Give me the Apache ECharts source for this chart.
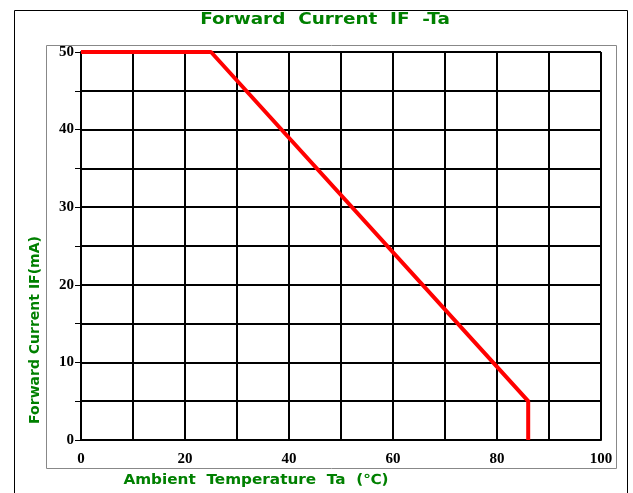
<!DOCTYPE html>
<html>
<head>
<meta charset="utf-8">
<script src="https://cdn.jsdelivr.net/npm/echarts@6/dist/echarts.min.js"></script>
<style>
  html, body { margin: 0; padding: 0; background: #fff; }
  #chart { width: 633px; height: 493px; }
</style>
</head>
<body>
<div id="chart"></div>
<script>
(function() {
  'use strict';

  // derating curve: ambient temperature (C) vs max forward current (mA)
  var tempC = [0, 25, 86, 86];
  var currentMA = [50, 50, 5, 0];
  var xTicks = [0, 20, 40, 60, 80, 100];
  var yTicks = [0, 10, 20, 30, 40, 50];

  var green = '#008000';
  var labelFont = 'Liberation Serif';
  var nameFont = '"DejaVu Sans"';

  var chart = echarts.init(document.getElementById('chart'), null, { renderer: 'canvas' });

  var points = tempC.map(function(t, i) { return [t, currentMA[i]]; });

  var option = {
    animation: false,
    backgroundColor: '#fff',
    grid: { left: 81, right: 32, top: 52, bottom: 53 },
    xAxis: {
      type: 'value',
      min: 0,
      max: 100,
      interval: 10,
      axisLine: { show: true, lineStyle: { color: '#000', width: 2 } },
      axisTick: { show: false },
      splitLine: { show: true, lineStyle: { color: '#000', width: 2 } },
      axisLabel: {
        margin: 12,
        color: '#000',
        fontSize: 15,
        fontWeight: 'bold',
        fontFamily: labelFont,
        formatter: function(v) { return xTicks.indexOf(v) >= 0 ? String(v) : ''; }
      }
    },
    yAxis: {
      type: 'value',
      min: 0,
      max: 50,
      interval: 5,
      axisLine: { show: true, lineStyle: { color: '#000', width: 2 } },
      axisTick: { show: true, length: 6, lineStyle: { color: '#000', width: 1 } },
      splitLine: { show: true, lineStyle: { color: '#000', width: 2 } },
      axisLabel: {
        margin: 7,
        color: '#000',
        fontSize: 15,
        fontWeight: 'bold',
        fontFamily: labelFont,
        formatter: function(v) { return yTicks.indexOf(v) >= 0 ? String(v) : ''; }
      }
    },
    graphic: [
      {
        type: 'rect',
        shape: { x: 14.5, y: 10.5, width: 613, height: 500 },
        style: { fill: null, stroke: '#000', lineWidth: 1 },
        silent: true
      },
      {
        type: 'rect',
        shape: { x: 46.5, y: 45.5, width: 570, height: 423 },
        style: { fill: null, stroke: '#888', lineWidth: 1 },
        silent: true
      },
      {
        // chart title
        type: 'text',
        x: 325,
        y: 20,
        scaleX: 1.15,
        style: {
          text: 'Forward  Current  IF  -Ta',
          fill: green,
          align: 'center',
          verticalAlign: 'middle',
          font: 'bold 16px ' + nameFont
        },
        silent: true
      },
      {
        type: 'text',
        x: 256,
        y: 480,
        scaleX: 1.09,
        style: {
          text: 'Ambient  Temperature  Ta  (\u2103)',
          fill: green,
          align: 'center',
          verticalAlign: 'middle',
          font: 'bold 14px ' + nameFont
        },
        silent: true
      },
      {
        type: 'text',
        x: 35,
        y: 330,
        rotation: Math.PI / 2,
        style: {
          text: 'Forward Current IF(mA)',
          fill: green,
          align: 'center',
          verticalAlign: 'middle',
          font: 'bold 14px ' + nameFont
        },
        silent: true
      }
    ],
    series: [{
      type: 'line',
      data: points,
      symbol: 'none',
      lineStyle: { color: '#ff0000', width: 4 },
      z: 5
    }]
  };

  chart.setOption(option);
})();
</script>
</body>
</html>
